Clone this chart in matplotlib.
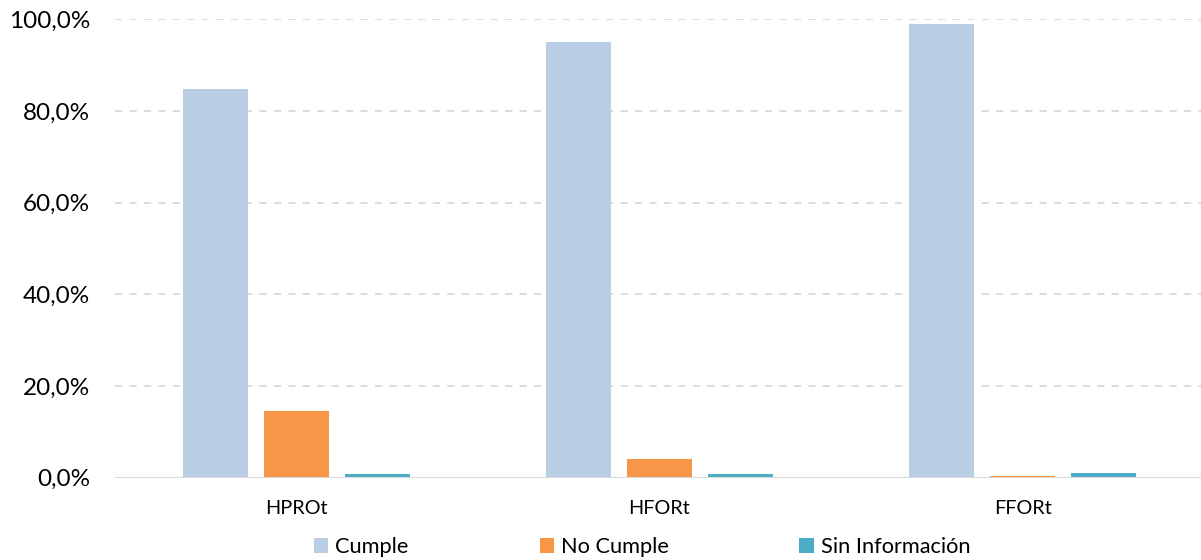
import numpy as np
import matplotlib.pyplot as plt
from matplotlib.ticker import FuncFormatter

categories = ['HPROt', 'HFORt', 'FFORt']
series_names = ['Cumple', 'No Cumple', 'Sin Información']
cumple = [84.7, 95.0, 98.9]
no_cumple = [14.5, 4.1, 0.3]
sin_info = [0.9, 0.9, 1.0]
colors = ['#B9CDE5', '#F79646', '#4BACC6']

plt.rcParams['font.family'] = ['Lato', 'DejaVu Sans']

fig = plt.figure(figsize=(12.01, 5.6), dpi=100)
ax = fig.add_axes([115 / 1201, 1 - 477.7 / 560, 1089 / 1201, (477.7 - 19.3) / 560])

x = np.arange(len(categories))
width = 0.179
offsets = [-0.222, 0.0, 0.222]
for vals, name, col, off in zip([cumple, no_cumple, sin_info], series_names, colors, offsets):
    ax.bar(x + off, vals, width, color=col, label=name, zorder=3)

ax.set_xlim(-0.5, 2.5)
ax.set_ylim(0, 100)
ax.set_yticks(np.arange(0, 101, 20))
ax.yaxis.set_major_formatter(FuncFormatter(lambda v, p: f'{v:.1f}%'.replace('.', ',')))
ax.set_xticks(x)
ax.set_xticklabels(categories)

ax.grid(axis='y', color='#D9D9D9', linestyle=(0, (4, 4)), linewidth=1.3, zorder=0)
ax.axhline(0, color='#D9D9D9', linewidth=1.5, zorder=4)
for s in ax.spines.values():
    s.set_visible(False)
ax.tick_params(axis='both', length=0, colors='#000000')
ax.tick_params(axis='y', pad=18, labelsize=17.5)
ax.tick_params(axis='x', pad=16, labelsize=14.3)

ax.legend(loc='center', bbox_to_anchor=(0.484, -0.152), ncol=3, frameon=False,
          fontsize=15.7, handlelength=0.65, handleheight=0.65, handletextpad=0.32,
          columnspacing=6.0)

fig.savefig('out.png', dpi=100)
